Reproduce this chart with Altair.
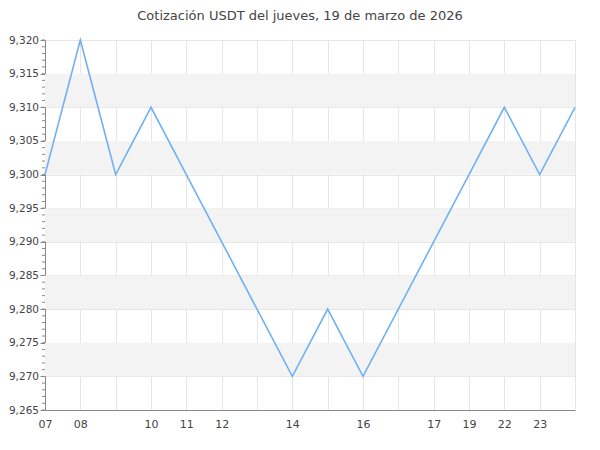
import altair as alt
import pandas as pd

title = "Cotización USDT del jueves, 19 de marzo de 2026"
x_labels = ["07", "08", "", "10", "11", "12", "", "14", "", "16", "", "17", "19", "22", "23", ""]
prices = [9.300, 9.320, 9.300, 9.310, 9.300, 9.290, 9.280, 9.270, 9.280, 9.270,
          9.280, 9.290, 9.300, 9.310, 9.300, 9.310]
band_lo = [9.270, 9.280, 9.290, 9.300, 9.310]
band_hi = [9.275, 9.285, 9.295, 9.305, 9.315]
y_min, y_max = 9.265, 9.320
major_ticks = [round(y_min + k * 0.005, 3) for k in range(12)]
minor_ticks = [round(y_min + i * 0.001, 3) for i in range(56)]

line_df = pd.DataFrame({"i": list(range(len(prices))), "p": prices})
band_df = pd.DataFrame({"lo": band_lo, "hi": band_hi})
tick_df = pd.DataFrame({"v": minor_ticks})

label_arr = "[" + ",".join("'%s'" % l for l in x_labels) + "]"

yscale = alt.Scale(domain=[y_min, y_max], nice=False, zero=False)
xscale = alt.Scale(domain=[0, len(prices) - 1], nice=False, zero=False)

yaxis = alt.Axis(values=major_ticks,
                 labelExpr="replace(format(datum.value, '.3f'), '.', ',')",
                 tickSize=5, tickColor="#888888", grid=True,
                 gridColor="#e6e6e6", domainColor="#888888",
                 labelColor="#444444", labelFontSize=10.5,
                 labelFont="DejaVu Sans", labelPadding=1.5,
                 labelOverlap=False, labelFlush=False, title=None)
xaxis = alt.Axis(values=list(range(len(prices))),
                 labelExpr=label_arr + "[datum.value]",
                 ticks=False, labelPadding=8, grid=True,
                 gridColor="#e6e6e6", domainColor="#888888",
                 labelColor="#444444", labelFontSize=11,
                 labelFont="DejaVu Sans", labelFlush=False,
                 labelOverlap=False, title=None)

bands = alt.Chart(band_df).mark_rect(color="#f3f3f3").encode(
    y=alt.Y("lo:Q", scale=yscale, axis=yaxis),
    y2="hi:Q",
    x=alt.value(0),
    x2=alt.value(530),
)

minor = alt.Chart(tick_df).mark_rule(color="#888888", strokeWidth=1).encode(
    y=alt.Y("v:Q", scale=yscale, axis=yaxis),
    x=alt.value(-3),
    x2=alt.value(0),
)

line = alt.Chart(line_df).mark_line(color="#72b1f1", strokeWidth=1.6).encode(
    x=alt.X("i:Q", scale=xscale, axis=xaxis),
    y=alt.Y("p:Q", scale=yscale, axis=yaxis),
)

chart = alt.layer(bands, minor, line).properties(
    width=530,
    height=370,
    autosize=alt.AutoSizeParams(type="none"),
    padding={"left": 37, "top": 32, "right": 17, "bottom": 32},
    title=alt.TitleParams(title, fontSize=13, fontWeight="normal",
                          color="#444444", font="DejaVu Sans",
                          anchor="middle", dx=-10, offset=12),
).configure_view(stroke=None)

chart.save("out.html", embed_options={"renderer": "svg", "actions": False})
